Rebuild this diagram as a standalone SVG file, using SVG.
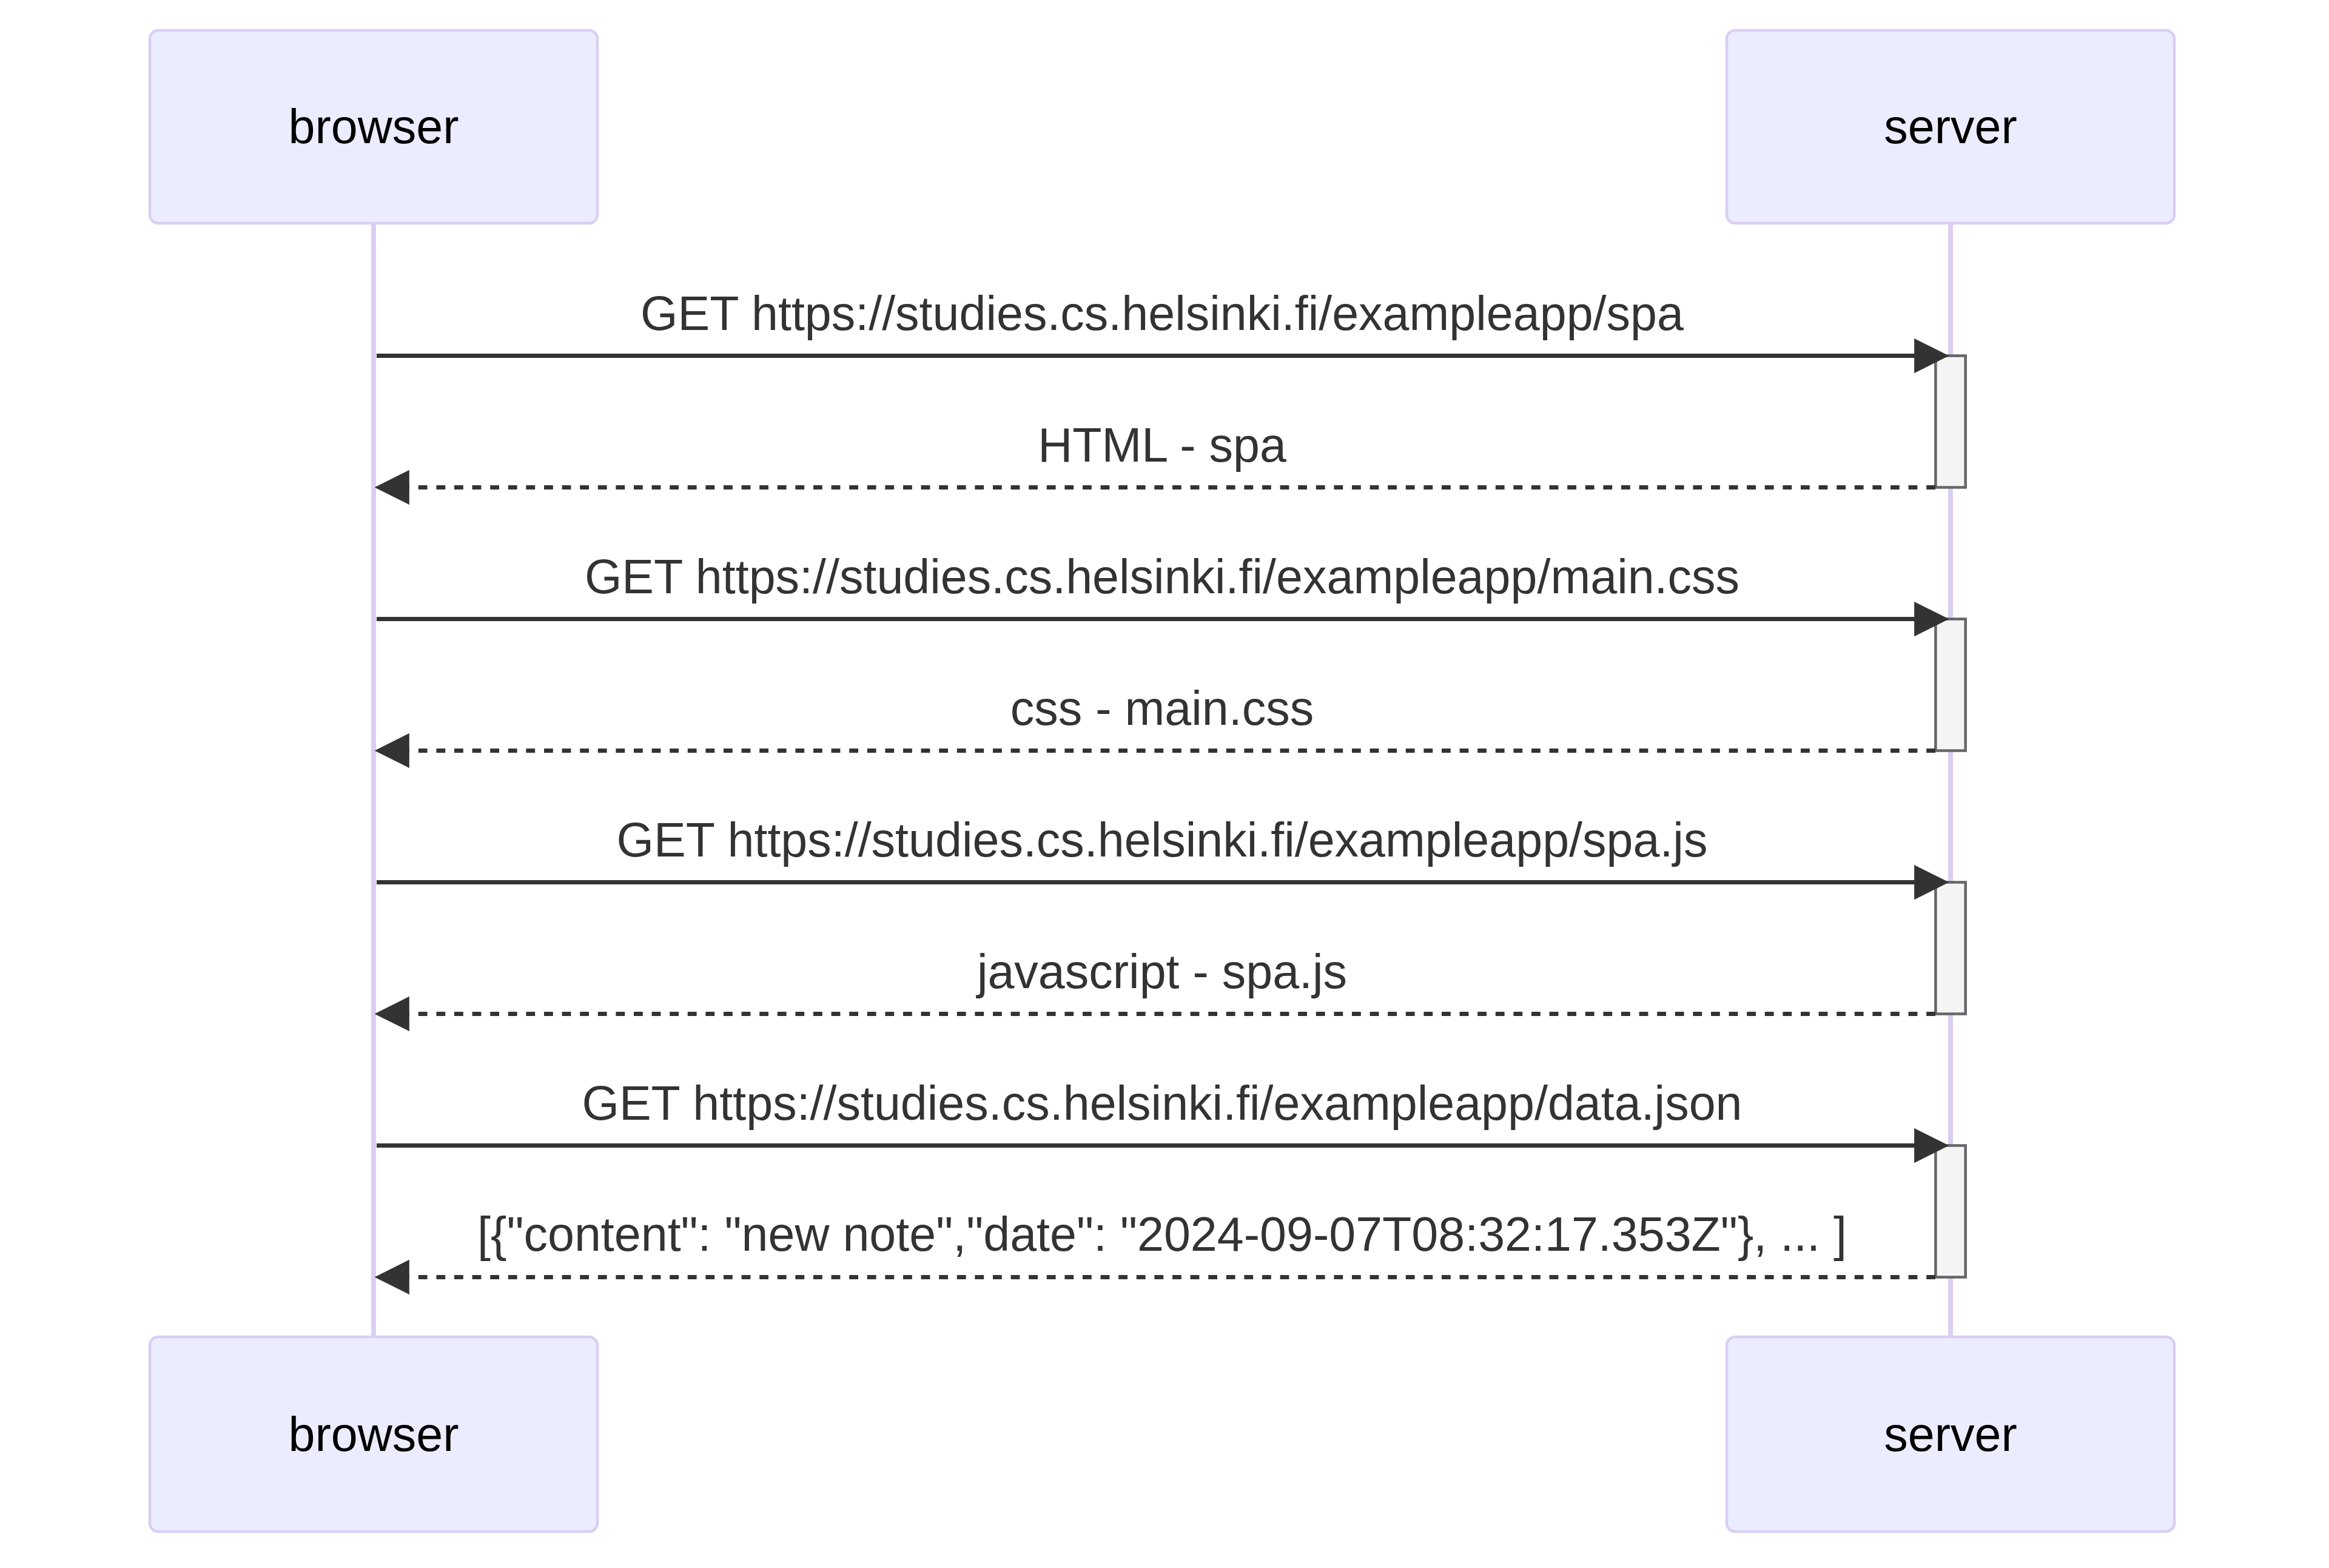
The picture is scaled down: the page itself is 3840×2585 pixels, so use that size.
<svg xmlns="http://www.w3.org/2000/svg" width="3840" height="2585" viewBox="0 0 3840 2585">
<style>
.actor{fill:#ECECFF;stroke:#DACEF3;stroke-width:4.5}
.actor-text{font-family:"Liberation Sans",Arial,Helvetica,sans-serif;font-size:79px;fill:#000;text-anchor:middle}
.lifeline{stroke:#DACEF3;stroke-width:8;fill:none}
.activation{fill:#F4F4F4;stroke:#666;stroke-width:4.5}
.msg{stroke:#333;stroke-width:7;fill:none;marker-end:url(#arrowhead)}
.dotted{stroke-dasharray:14.8 14.8}
.msg-text{font-family:"Liberation Sans",Arial,Helvetica,sans-serif;font-size:79px;fill:#333;text-anchor:middle}
</style>
<defs>
<marker id="arrowhead" viewBox="-1 -1 12 12" markerWidth="59.2" markerHeight="59.2" refX="7.9" refY="5" orient="auto" markerUnits="userSpaceOnUse">
<path d="M0 0 L10 5 L0 10 z" fill="#333" stroke="#333" stroke-width="1"/>
</marker>
</defs>
<rect width="3840" height="2585" fill="#fff"/>
<g id="lifelines">
<line class="lifeline" x1="616" y1="368" x2="616" y2="2206"/>
<line class="lifeline" x1="3216" y1="368" x2="3216" y2="2206"/>
</g>
<g id="browser-top"><rect class="actor" x="247" y="50" width="738" height="318" rx="14"/><text class="actor-text" x="616" y="236">browser</text></g>
<g id="server-top"><rect class="actor" x="2847" y="50" width="738" height="318" rx="14"/><text class="actor-text" x="3216" y="236">server</text></g>
<g id="browser-bottom"><rect class="actor" x="247" y="2204" width="738" height="321" rx="14"/><text class="actor-text" x="616" y="2392">browser</text></g>
<g id="server-bottom"><rect class="actor" x="2847" y="2204" width="738" height="321" rx="14"/><text class="actor-text" x="3216" y="2392">server</text></g>
<g id="activations">
<rect class="activation" x="3191.4" y="586.5" width="49.3" height="217"/>
<rect class="activation" x="3191.4" y="1020.5" width="49.3" height="217"/>
<rect class="activation" x="3191.4" y="1454.5" width="49.3" height="217"/>
<rect class="activation" x="3191.4" y="1888.5" width="49.3" height="217"/>
</g>
<g id="connectors">
<text class="msg-text" x="1916" y="543.5">GET https://studies.cs.helsinki.fi/exampleapp/spa</text>
<line class="msg" x1="621" y1="586.5" x2="3197.6" y2="586.5"/>
<text class="msg-text" x="1916" y="760.5">HTML - spa</text>
<line class="msg dotted" x1="3191" y1="803.5" x2="633.4" y2="803.5"/>
<text class="msg-text" x="1916" y="977.5">GET https://studies.cs.helsinki.fi/exampleapp/main.css</text>
<line class="msg" x1="621" y1="1020.5" x2="3197.6" y2="1020.5"/>
<text class="msg-text" x="1916" y="1194.5">css - main.css</text>
<line class="msg dotted" x1="3191" y1="1237.5" x2="633.4" y2="1237.5"/>
<text class="msg-text" x="1916" y="1411.5">GET https://studies.cs.helsinki.fi/exampleapp/spa.js</text>
<line class="msg" x1="621" y1="1454.5" x2="3197.6" y2="1454.5"/>
<text class="msg-text" x="1916" y="1628.5">javascript - spa.js</text>
<line class="msg dotted" x1="3191" y1="1671.5" x2="633.4" y2="1671.5"/>
<text class="msg-text" x="1916" y="1845.5">GET https://studies.cs.helsinki.fi/exampleapp/data.json</text>
<line class="msg" x1="621" y1="1888.5" x2="3197.6" y2="1888.5"/>
<text class="msg-text" x="1916" y="2062">[{"content": "new note","date": "2024-09-07T08:32:17.353Z"}, ... ]</text>
<line class="msg dotted" x1="3191" y1="2105.5" x2="633.4" y2="2105.5"/>
</g>
</svg>
